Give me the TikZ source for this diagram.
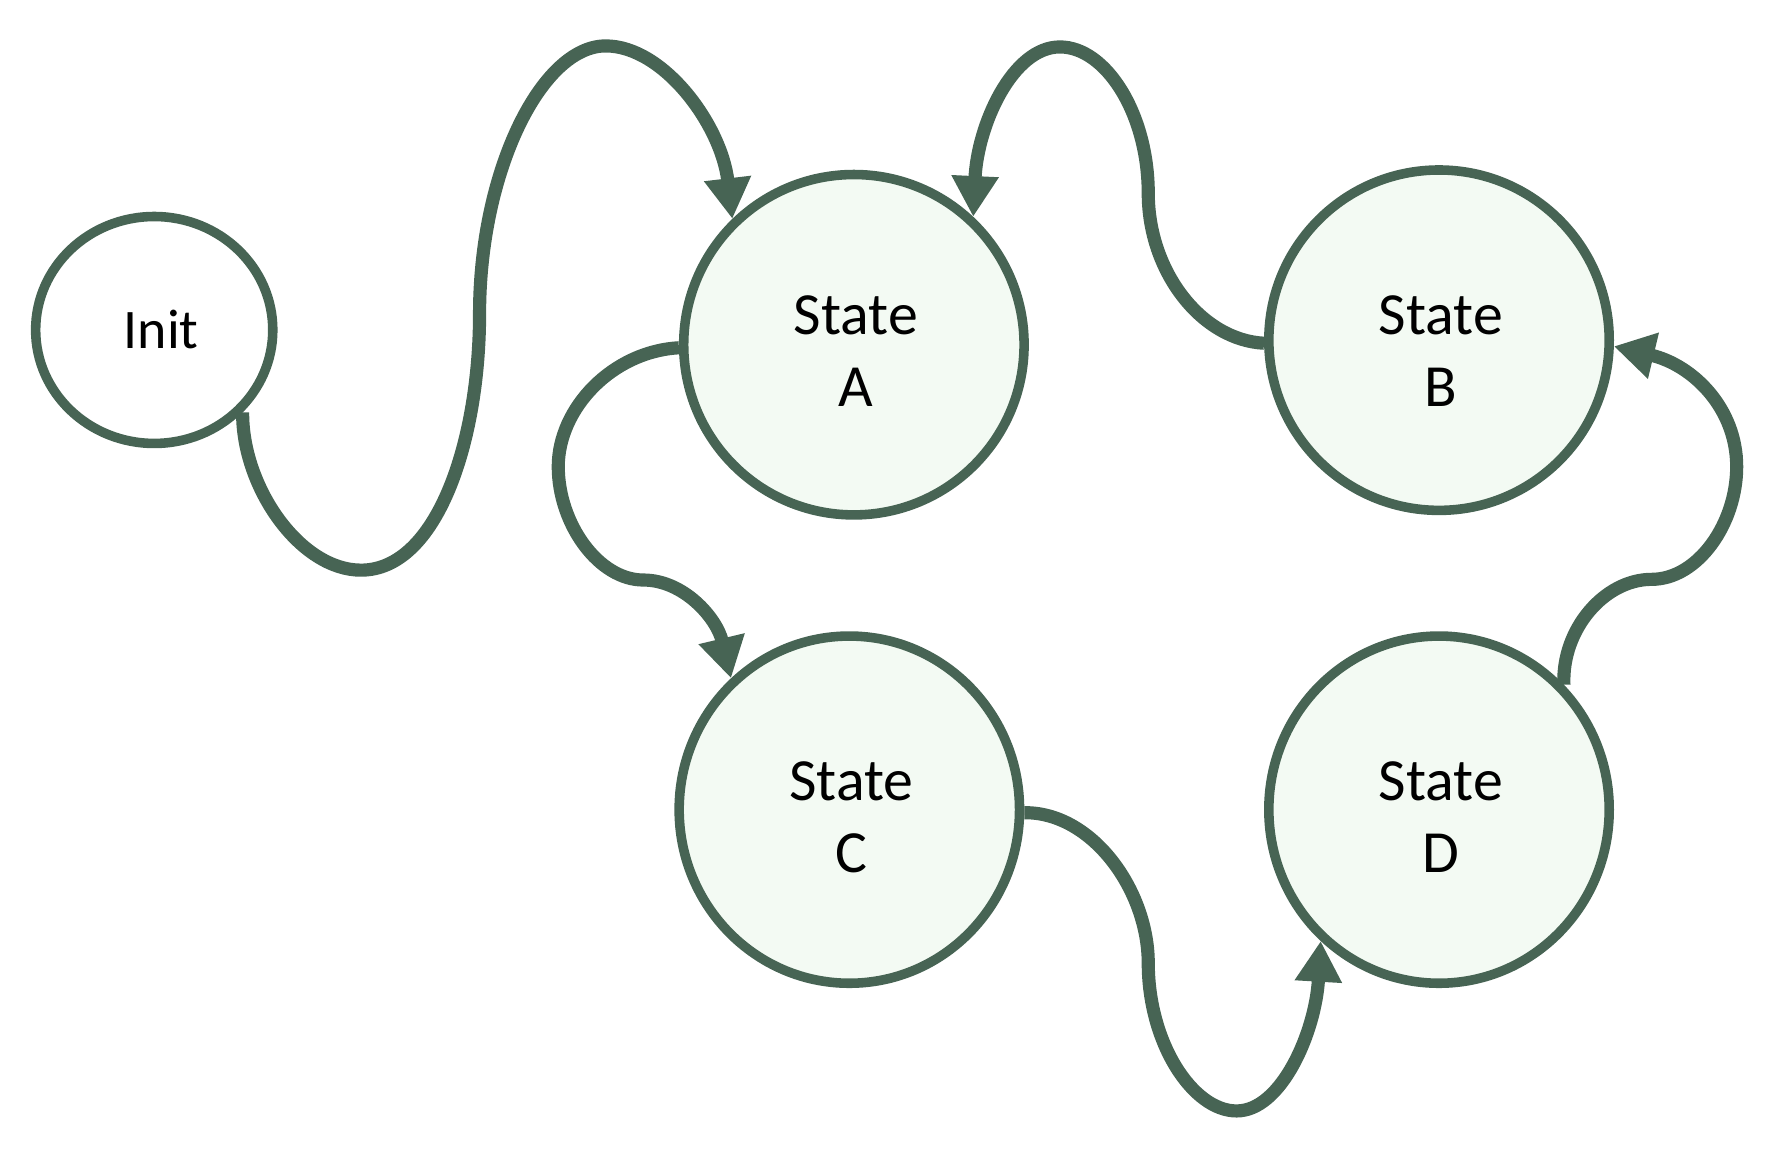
\documentclass[tikz,border=0pt]{standalone}
\usepackage{fontspec}
\setmainfont{Carlito}
\usetikzlibrary{arrows.meta,shapes.geometric}
\definecolor{edgegreen}{HTML}{476454}
\definecolor{statefill}{HTML}{F3FAF3}
\begin{document}
\begin{tikzpicture}[x=0.01cm,y=-0.01cm,
  statenode/.style={ellipse,draw=edgegreen,line width=2.4pt,fill=statefill,
    minimum width=3.0cm,minimum height=3.0cm,inner sep=0pt},
  statetext/.style={align=center,inner sep=0pt,xshift=0.5pt,
    font=\fontsize{15}{18}\selectfont},
  initnode/.style={ellipse,draw=edgegreen,line width=2.4pt,fill=white,
    minimum width=2.09cm,minimum height=2.0cm,inner sep=0pt,
    font=\fontsize{14}{17}\selectfont},
  trans/.style={draw=edgegreen,line width=3.3pt,
    -{Triangle[length=10.2pt,width=11.2pt]}}]
\useasboundingbox (0,0) rectangle (1560,1016);
\node[initnode] (init) at (136,291) {\hspace{3.5pt}Init};
\node[statenode,label={[statetext,name=Atext,yshift=-1.6pt]center:{State\\A}}] (A) at (753,304) {};
\node[statenode,label={[statetext,name=Btext,yshift=-2.7pt]center:{State\\B}}] (B) at (1269,300) {};
\node[statenode,minimum height=3.06cm,label={[statetext,name=Ctext,yshift=-1.9pt]center:{State\\C}}] (C) at (749,714) {};
\node[statenode,minimum height=3.06cm,label={[statetext,name=Dtext,yshift=-1.9pt]center:{State\\D}}] (D) at (1269,714) {};
% Init -> A
\draw[trans] (init.-43) .. controls (213.5,430) and (265,502.8) .. (318.3,502.8)
  .. controls (385,502.8) and (422.9,390) .. (422.9,276.7)
  .. controls (422.9,150) and (478,40.5) .. (534.1,40.5)
  .. controls (585,40.5) and (636,110) .. (A.134);
% B -> A
\draw[trans] (B.181) .. controls (1060,300) and (1012.6,240) .. (1012.6,170.6)
  .. controls (1012.6,100) and (975,41.4) .. (934.7,41.4)
  .. controls (893,41.4) and (862,110) .. (A.47);
% A -> C
\draw[trans] (A.181) .. controls (540,310) and (492.3,360) .. (492.3,411.5)
  .. controls (492.3,462) and (528,511.5) .. (567.3,511.5)
  .. controls (603,511.5) and (632,545) .. (C.132);
% C -> D
\draw[trans] (C.-1) .. controls (963,716) and (1012.6,785) .. (1012.6,849.5)
  .. controls (1012.6,920) and (1052,979.7) .. (1090.5,979.7)
  .. controls (1130,979.7) and (1160,910) .. (D.228);
% D -> B
\draw[trans] (D.45) .. controls (1377,555) and (1415,510.9) .. (1456.5,510.9)
  .. controls (1497,510.9) and (1531.5,462) .. (1531.5,411.5)
  .. controls (1531.5,360) and (1493,322) .. (B.-2);
\end{tikzpicture}
\end{document}
